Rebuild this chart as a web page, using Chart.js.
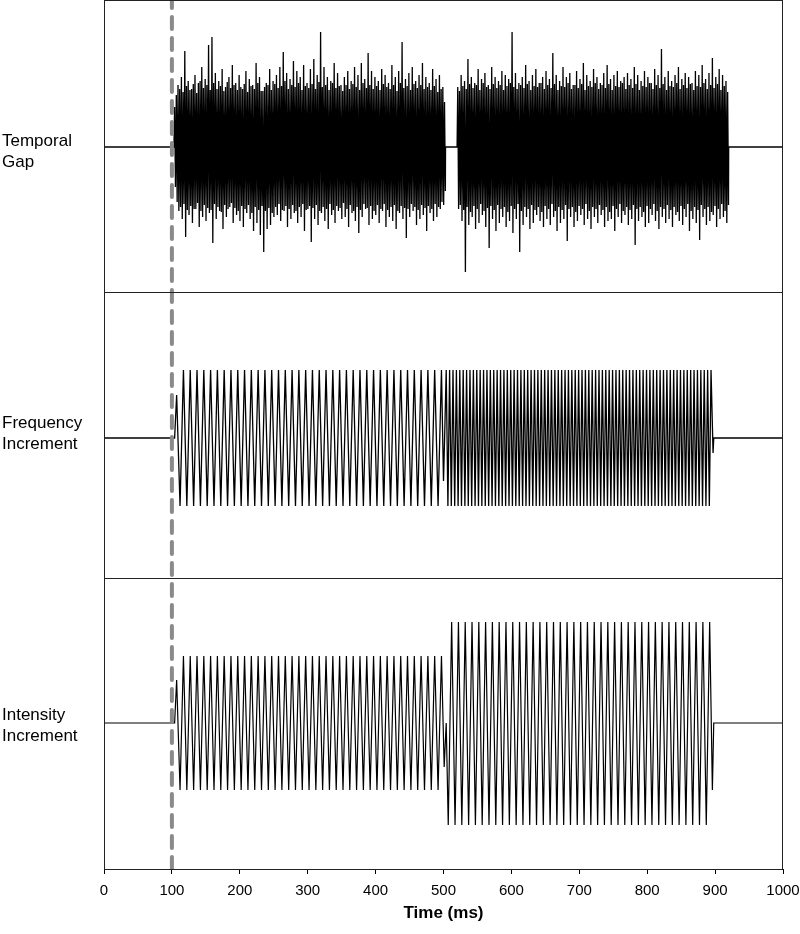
<!DOCTYPE html>
<html lang="en">
<head>
<meta charset="UTF-8">
<title>Temporal gap, frequency increment, intensity increment</title>
<style>
    html, body { margin: 0; padding: 0; background: #fff; }
    #wrap { position: relative; width: 800px; height: 934px; }
</style>
<script src="https://cdn.jsdelivr.net/npm/chart.js"></script>
</head>
<body>
<div id="wrap"><canvas id="grafico"></canvas></div>
<script>
// x axis (ms)
const xTicks = [0, 100, 200, 300, 400, 500, 600, 700, 800, 900, 1000];
const markerTime = 100;

// panel labels
const gapLabel = ['Temporal', 'Gap'];
const freqLabel = ['Frequency', 'Increment'];
const intLabel = ['Intensity', 'Increment'];

// Temporal gap: noise peaks (up) and troughs (down) every 2.5 ms
const noiseStep = 2.5;
const noiseStart1 = 104;
const noiseUp1 = [
    40,52, 62,58, 70,55, 96,61, 66,57, 58,63, 72,54, 64,66, 80,59, 68,62,
    102,57, 110,64, 74,58, 66,61, 78,56, 60,65, 70,59, 82,62, 64,57, 72,60,
    58,63, 76,55, 68,61, 62,58, 84,64, 70,56, 56,60, 64,62, 78,57, 66,63,
    72,59, 80,61, 95,66, 74,58, 68,62, 86,60, 76,64, 70,57, 82,61, 64,59,
    78,63, 88,58, 72,65, 115,60, 80,62, 70,57, 66,64, 84,59, 74,61, 62,56,
    70,62, 76,58, 66,63, 80,60, 72,57, 84,64, 68,59, 94,62, 76,58, 70,61,
    66,57, 78,63, 72,60, 64,58, 82,62, 70,56, 76,64, 105,59, 68,61, 74,57,
    80,63, 66,59, 72,62, 84,58, 70,60, 64,57, 78,61, 68,55, 72,58, 60,45
];
const noiseDown1 = [
    40,55, 64,60, 72,57, 90,63, 68,59, 76,62, 62,56, 80,64, 70,58, 74,61,
    66,63, 96,57, 72,60, 64,65, 82,58, 70,62, 60,56, 76,61, 68,64, 74,59,
    80,62, 66,58, 72,66, 84,60, 76,63, 88,59, 105,64, 82,61, 78,66, 70,60,
    68,57, 74,63, 64,59, 80,62, 72,58, 66,64, 76,60, 70,57, 84,63, 62,59,
    95,61, 72,58, 78,64, 66,60, 74,62, 82,57, 68,63, 76,59, 64,61, 72,56,
    70,62, 80,58, 66,64, 74,60, 86,63, 70,57, 62,61, 78,59, 72,64, 68,58,
    76,62, 64,57, 80,63, 70,60, 74,58, 82,64, 66,59, 72,61, 91,62, 70,57,
    64,60, 78,63, 72,58, 68,61, 84,59, 66,62, 74,57, 70,60, 62,55, 58,44
];
const noiseStart2 = 521;
const noiseUp2 = [
    60,56, 72,61, 66,58, 88,63, 70,59, 64,62, 78,57, 68,64, 74,60, 62,58,
    80,63, 70,59, 66,62, 76,57, 72,61, 68,64, 115,60, 74,58, 64,62, 70,59,
    82,63, 66,57, 72,61, 78,60, 64,64, 70,58, 76,62, 68,59, 94,63, 72,57,
    66,61, 80,60, 70,64, 74,58, 62,62, 76,59, 68,63, 84,57, 72,61, 66,60,
    78,64, 70,58, 64,62, 74,59, 82,63, 68,57, 72,61, 76,60, 66,64, 70,58,
    74,62, 68,59, 80,63, 72,57, 66,61, 76,60, 70,64, 64,58, 78,62, 72,59,
    98,63, 70,57, 76,61, 66,60, 72,64, 80,58, 68,62, 74,59, 70,63, 64,57,
    76,61, 72,60, 82,64, 68,58, 74,62, 89,59, 70,63, 78,57, 72,61, 66,55
];
const noiseDown2 = [
    62,58, 74,63, 125,60, 78,65, 70,59, 82,62, 76,57, 68,64, 80,61, 101,59,
    72,63, 84,58, 76,62, 70,60, 80,65, 74,59, 86,62, 72,57, 105,64, 78,60,
    70,62, 82,58, 76,63, 68,60, 74,65, 80,59, 72,62, 78,57, 70,64, 84,60,
    76,63, 72,58, 94,62, 70,60, 80,65, 74,59, 68,62, 78,57, 72,64, 82,60,
    70,62, 76,58, 68,63, 80,60, 74,65, 72,59, 84,62, 70,57, 76,64, 68,60,
    78,63, 72,58, 98,62, 74,60, 70,65, 80,59, 76,62, 68,57, 74,64, 82,60,
    70,62, 76,58, 72,63, 80,60, 68,65, 74,59, 78,62, 70,57, 84,64, 72,60,
    76,63, 93,58, 70,62, 78,60, 74,65, 68,59, 80,62, 72,57, 70,64, 76,58
];
const gapLead = [[0, 0], [103, 0]];
const gapJoin = [[503, 0], [520, 0]];
const gapTail = [[920, 0], [1000, 0]];

// Frequency increment: 100 Hz tone (extremes every 5 ms), then 200 Hz (every 2.5 ms)
const freqStartA = 107, freqStepA = 5;
const freqA = [
    43,
    -68, 68, -68, 68, -68, 68, -68, 68, -68, 68,
    -68, 68, -68, 68, -68, 68, -68, 68, -68, 68,
    -68, 68, -68, 68, -68, 68, -68, 68, -68, 68,
    -68, 68, -68, 68, -68, 68, -68, 68, -68, 68,
    -68, 68, -68, 68, -68, 68, -68, 68, -68, 68,
    -68, 68, -68, 68, -68, 68, -68, 68, -68, 68,
    -68, 68, -68, 68, -68, 68, -68, 68, -68, 68,
    -68, 68, -68, 68, -68, 68, -68, 68
];
const freqStartB = 504, freqStepB = 2.5;
const freqB = [
    68, -68, 68, -68, 68, -68, 68, -68, 68, -68,
    68, -68, 68, -68, 68, -68, 68, -68, 68, -68,
    68, -68, 68, -68, 68, -68, 68, -68, 68, -68,
    68, -68, 68, -68, 68, -68, 68, -68, 68, -68,
    68, -68, 68, -68, 68, -68, 68, -68, 68, -68,
    68, -68, 68, -68, 68, -68, 68, -68, 68, -68,
    68, -68, 68, -68, 68, -68, 68, -68, 68, -68,
    68, -68, 68, -68, 68, -68, 68, -68, 68, -68,
    68, -68, 68, -68, 68, -68, 68, -68, 68, -68,
    68, -68, 68, -68, 68, -68, 68, -68, 68, -68,
    68, -68, 68, -68, 68, -68, 68, -68, 68, -68,
    68, -68, 68, -68, 68, -68, 68, -68, 68, -68,
    68, -68, 68, -68, 68, -68, 68, -68, 68, -68,
    68, -68, 68, -68, 68, -68, 68, -68, 68, -68,
    68, -68, 68, -68, 68, -68, 68, -68, 68, -68,
    68, -68, 68, -68, 68, -68, 68
];
const freqLead = [[0, 0], [104, 0]];
const freqJoin = [[500, -43], [502, 10]];
const freqTail = [[897, -15], [898, 0], [1000, 0]];

// Intensity increment: 100 Hz tone, louder after 500 ms
const intStartA = 107, intStepA = 5;
const intA = [
    43,
    -67, 67, -67, 67, -67, 67, -67, 67, -67, 67,
    -67, 67, -67, 67, -67, 67, -67, 67, -67, 67,
    -67, 67, -67, 67, -67, 67, -67, 67, -67, 67,
    -67, 67, -67, 67, -67, 67, -67, 67, -67, 67,
    -67, 67, -67, 67, -67, 67, -67, 67, -67, 67,
    -67, 67, -67, 67, -67, 67, -67, 67, -67, 67,
    -67, 67, -67, 67, -67, 67, -67, 67, -67, 67,
    -67, 67, -67, 67, -67, 67, -67, 67
];
const intStartB = 507, intStepB = 5;
const intB = [
    -102, 101, -102, 101, -102, 101, -102, 101, -102, 101,
    -102, 101, -102, 101, -102, 101, -102, 101, -102, 101,
    -102, 101, -102, 101, -102, 101, -102, 101, -102, 101,
    -102, 101, -102, 101, -102, 101, -102, 101, -102, 101,
    -102, 101, -102, 101, -102, 101, -102, 101, -102, 101,
    -102, 101, -102, 101, -102, 101, -102, 101, -102, 101,
    -102, 101, -102, 101, -102, 101, -102, 101, -102, 101,
    -102, 101, -102, 101, -102, 101, -102, 101
];
const intLead = [[0, 0], [104, 0]];
const intJoin = [[501, -44], [504, 0]];
const intTail = [[896, -67], [898, 0], [1000, 0]];

// ---- build point lists ----
function pts(pairs) { return pairs.map(p => ({ x: p[0], y: p[1] })); }
function run(t0, dt, values) { return values.map((v, i) => ({ x: t0 + dt * i, y: v })); }
function noise(t0, dt, up, down) {
    const out = [];
    up.forEach((u, i) => {
        out.push({ x: t0 + dt * i, y: u });
        out.push({ x: t0 + dt * i + dt / 2, y: -down[i] });
    });
    return out;
}

const gapTrace = [].concat(pts(gapLead), noise(noiseStart1, noiseStep, noiseUp1, noiseDown1),
    pts(gapJoin), noise(noiseStart2, noiseStep, noiseUp2, noiseDown2), pts(gapTail));
const freqTrace = [].concat(pts(freqLead), run(freqStartA, freqStepA, freqA),
    pts(freqJoin), run(freqStartB, freqStepB, freqB), pts(freqTail));
const intTrace = [].concat(pts(intLead), run(intStartA, intStepA, intA),
    pts(intJoin), run(intStartB, intStepB, intB), pts(intTail));
const markerLine = [{ x: markerTime, y: 0 }, { x: markerTime, y: 1 }];

Chart.defaults.font.family = "'Liberation Sans', Arial, sans-serif";
Chart.defaults.color = '#000';

// one stacked y axis per panel; the label sits on a single tick near the baseline
function panelAxis(label, lo, hi, weight, labelAt) {
    return {
        type: 'linear', position: 'left', stack: 'panels', stackWeight: weight,
        min: lo, max: hi,
        afterBuildTicks: s => { s.ticks = [{ value: labelAt }]; },
        ticks: { callback: () => label, crossAlign: 'far', color: '#000', padding: 0,
                 font: { size: 17, lineHeight: 1.25 } },
        grid: { display: false, drawTicks: false },
        border: { display: false },
        afterFit: s => { s.width = 102; s.paddingTop = 0; s.paddingBottom = 0; }
    };
}

// box round each panel
const panelFrames = {
    id: 'panelFrames',
    afterDatasetsDraw(chart) {
        const { ctx, chartArea } = chart;
        ctx.save();
        ctx.strokeStyle = '#222';
        ctx.lineWidth = 1;
        ['yGap', 'yFreq', 'yInt'].forEach(id => {
            const s = chart.scales[id];
            ctx.strokeRect(Math.round(chartArea.left) + 0.5, Math.round(s.top) + 0.5,
                Math.round(chartArea.right - chartArea.left) - 1, Math.round(s.bottom - s.top));
        });
        ctx.restore();
    }
};

// a dash with no gap keeps Chart.js off its pixel-merging fast path, so every stroke is drawn
const lineStyle = { borderColor: '#000', borderWidth: 1.2, borderDash: [5000, 0], pointRadius: 0,
                    tension: 0, fill: false, order: 1 };

new Chart(document.getElementById('grafico').getContext('2d'), {
    type: 'line',
    data: {
        datasets: [
            { data: markerLine, yAxisID: 'yFull', borderColor: '#8a8a8a', borderWidth: 4,
              borderDash: [12, 9], borderCapStyle: 'round', pointRadius: 0, order: 0 },
            Object.assign({}, lineStyle, { data: gapTrace, yAxisID: 'yGap', borderWidth: 1.3 }),
            Object.assign({}, lineStyle, { data: freqTrace, yAxisID: 'yFreq', borderWidth: 1.3 }),
            Object.assign({}, lineStyle, { data: intTrace, yAxisID: 'yInt' })
        ]
    },
    options: {
        responsive: true,
        maintainAspectRatio: false,
        animation: false,
        layout: { padding: { top: 0, right: 17, left: 2, bottom: 0 } },
        plugins: { legend: { display: false }, tooltip: { enabled: false } },
        scales: {
            x: {
                type: 'linear', min: 0, max: 1000,
                afterBuildTicks: s => { s.ticks = xTicks.map(v => ({ value: v })); },
                ticks: { color: '#000', font: { size: 15 }, padding: 8, maxRotation: 0,
                         callback: v => String(v) },
                grid: { drawOnChartArea: false, color: '#000', tickLength: 5 },
                border: { color: '#000' },
                title: { display: true, text: 'Time (ms)', color: '#000',
                         font: { size: 17, weight: 'bold' }, padding: { top: 4, bottom: 10 } },
                afterFit: s => { s.height = 65; s.paddingLeft = 0; s.paddingRight = 0; }
            },
            yInt: panelAxis(intLabel, -146, 145, 291, -3),
            yFreq: panelAxis(freqLabel, -140, 146, 286, 4),
            yGap: panelAxis(gapLabel, -145, 147, 292, -5),
            yFull: { type: 'linear', display: false, min: 0, max: 1 }
        }
    },
    plugins: [panelFrames]
});
</script>
</body>
</html>
